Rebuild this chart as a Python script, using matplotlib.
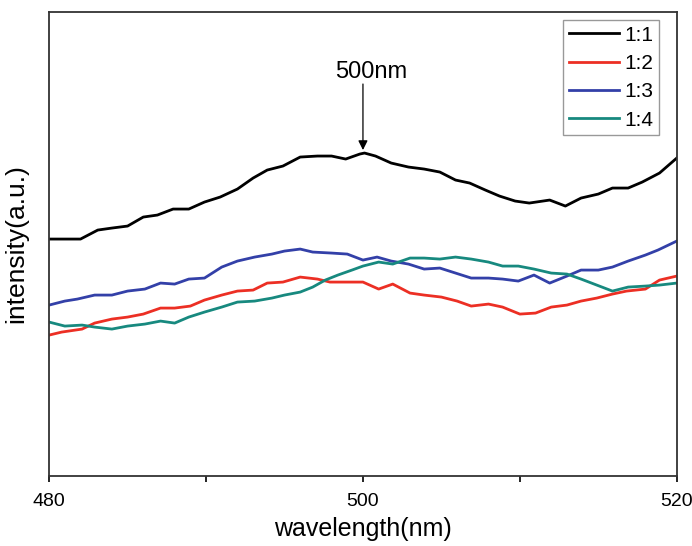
import numpy as np
import matplotlib.pyplot as plt
from matplotlib.ticker import MultipleLocator

plt.rcParams['font.family'] = ['Liberation Sans', 'DejaVu Sans']

# wavelength (nm) / intensity (a.u.)
wl_11 = [480.0, 482.0, 483.1, 484.0, 485.0, 486.0, 486.9, 487.9, 488.9, 489.9,
         490.9, 492.0, 493.0, 493.9, 494.9, 496.0, 497.1, 498.0, 498.9, 499.8,
         500.1, 500.8, 501.8, 502.9, 503.9, 504.9, 505.9, 506.8, 507.8, 508.7,
         509.7, 510.6, 511.9, 512.9, 513.9, 515.0, 515.9, 516.9, 517.8, 518.9, 520.0]
i_11 = [237, 237, 246, 248, 250, 259, 261, 267, 267, 274, 279, 287, 298, 306,
        310, 319, 320, 320, 317, 322, 323, 320, 313, 309, 307, 304, 296, 293,
        286, 280, 275, 273, 276, 270, 278, 282, 288, 288, 294, 303, 318]

wl_12 = [480.0, 480.8, 482.1, 482.9, 484.0, 485.0, 486.0, 487.1, 488.0, 489.0,
         489.9, 491.0, 492.0, 493.0, 493.9, 494.9, 496.0, 497.1, 497.9, 499.0,
         500.0, 501.0, 501.9, 503.0, 503.9, 505.0, 506.0, 506.9, 508.0, 508.9,
         510.0, 511.0, 512.0, 513.0, 513.9, 514.9, 515.9, 516.8, 518.0, 518.9, 520.0]
i_12 = [141, 144, 147, 153, 157, 159, 162, 168, 168, 170, 176, 181, 185, 186,
        193, 194, 199, 197, 194, 194, 194, 187, 192, 183, 181, 179, 175, 170,
        172, 169, 162, 163, 169, 171, 175, 178, 182, 185, 187, 196, 200]

wl_13 = [480.0, 481.0, 481.8, 482.9, 484.0, 485.0, 486.1, 487.1, 488.0, 488.9,
         489.9, 491.0, 492.0, 493.1, 494.2, 495.0, 496.0, 496.8, 498.0, 499.0,
         500.0, 500.9, 501.8, 502.9, 503.9, 504.9, 505.9, 506.9, 508.0, 508.9,
         509.9, 510.9, 511.9, 513.0, 513.9, 515.0, 515.9, 516.9, 518.0, 518.8, 520.0]
i_13 = [171, 175, 177, 181, 181, 185, 187, 193, 192, 197, 198, 209, 215, 219,
        222, 225, 227, 224, 223, 222, 216, 219, 215, 212, 207, 208, 203, 198,
        198, 197, 195, 201, 193, 200, 206, 206, 209, 215, 221, 226, 235]

wl_14 = [480.0, 481.0, 482.1, 482.9, 484.0, 485.0, 486.1, 487.1, 488.0, 488.9,
         489.9, 491.0, 492.0, 493.1, 494.2, 495.0, 496.0, 496.8, 497.6, 498.4,
         499.3, 500.0, 501.0, 501.9, 503.0, 503.9, 504.9, 505.9, 506.9, 508.0,
         508.9, 509.9, 510.9, 512.0, 513.0, 513.9, 514.9, 515.9, 516.9, 518.0,
         518.9, 520.0]
i_14 = [154, 150, 151, 149, 147, 150, 152, 155, 153, 159, 164, 169, 174, 175,
        178, 181, 184, 189, 196, 201, 206, 210, 214, 212, 218, 218, 217, 219,
        217, 214, 210, 210, 207, 203, 202, 197, 191, 185, 189, 190, 191, 193]

fig = plt.figure(figsize=(6.92, 5.46), dpi=100)
ax = fig.add_axes([0.071, 0.128, 0.907, 0.850])

ax.plot(wl_11, i_11, color='black', lw=2, label='1:1')
ax.plot(wl_12, i_12, color='#ec2f24', lw=2, label='1:2')
ax.plot(wl_13, i_13, color='#3340a8', lw=2, label='1:3')
ax.plot(wl_14, i_14, color='#17897f', lw=2, label='1:4')

# arrow marking the 500 nm peak
ax.annotate('', xy=(500, 326), xytext=(500, 392),
            arrowprops=dict(arrowstyle='-|>', color='black', lw=0.9,
                            shrinkA=0, shrinkB=0, mutation_scale=14))
ax.text(500.5, 404, '500nm', ha='center', va='center', fontsize=17)

ax.set_xlim(480, 520)
ax.set_ylim(0, 464)
ax.xaxis.set_major_locator(MultipleLocator(20))
ax.xaxis.set_minor_locator(MultipleLocator(10))
ax.tick_params(axis='x', which='both', direction='out', length=4, width=1.2,
               labelsize=14, pad=8)
ax.set_yticks([])
for s in ax.spines.values():
    s.set_linewidth(1.3)
    s.set_color('#333333')

ax.set_xlabel('wavelength(nm)', fontsize=18, labelpad=5)
ax.set_ylabel('intensity(a.u.)', fontsize=19)
ax.yaxis.set_label_coords(-0.034, 0.5)

leg = ax.legend(loc='upper right', fontsize=15, handlelength=2.4,
                handletextpad=0.3, labelspacing=0.45, borderpad=0.25,
                fancybox=False, framealpha=1, borderaxespad=0.4,
                bbox_to_anchor=(0.985, 1.0))
leg.get_frame().set_edgecolor('#999999')
leg.get_frame().set_linewidth(1.0)

fig.savefig('out.png', dpi=100)
